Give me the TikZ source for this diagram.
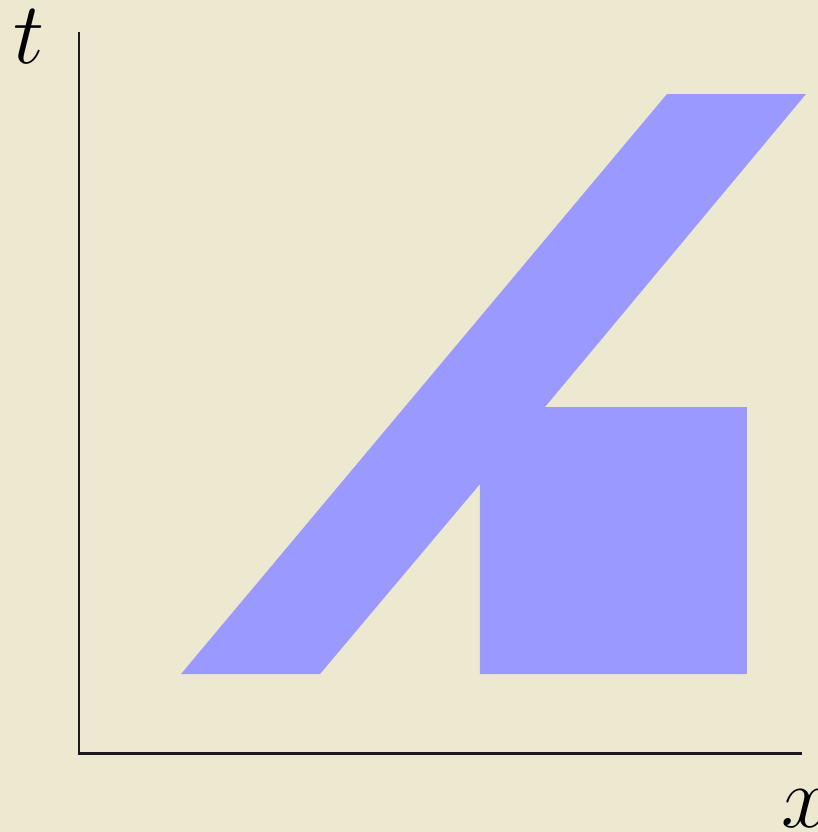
\documentclass[tikz,border=0pt]{standalone}
\usepackage{amsmath,amssymb}
\usepackage{xcolor}
\usepackage{tikz}
\usetikzlibrary{positioning}
\definecolor{PaperBeige}{HTML}{EDE8D0}
\definecolor{RegionBlue}{HTML}{9999FF}
\definecolor{AxisGray}{HTML}{1A1A1A}

\begin{document}
\begin{tikzpicture}[x=0.01cm, y=-0.01cm]
  % Background
  \fill[PaperBeige] (0,0) rectangle (818,832);
  \useasboundingbox (0,0) rectangle (818,832);
  % Region
  \fill[RegionBlue] (181,674) -- (320,674) -- (480,484) -- (480,674)
    -- (747,674) -- (747,407) -- (545,407) -- (806,94) -- (667,94) -- cycle;
  % Axes
  \coordinate (origin) at (79,753);
  \coordinate (tend) at (79,32);
  \coordinate (xend) at (802,753);
  \draw[AxisGray, line width=0.85pt] (tend) -- (origin) -- (xend);
  % Labels
  \node[anchor=base, inner sep=0pt, font=\fontsize{24}{28}\selectfont] (tlabel) at (29,63) {$t$};
  \node[anchor=base, inner sep=0pt, font=\fontsize{24}{28}\selectfont] (xlabel) at (806,827) {$x$};
\end{tikzpicture}
\end{document}
